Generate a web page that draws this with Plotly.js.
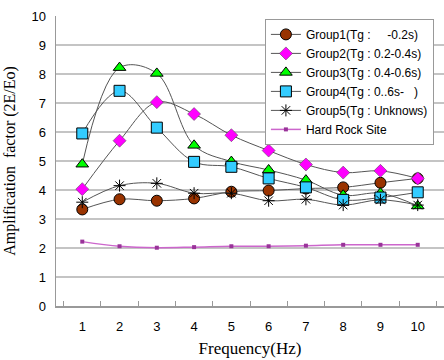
<!DOCTYPE html>
<html>
<head>
<meta charset="utf-8">
<script src="https://cdn.plot.ly/plotly-3.0.1.min.js"></script>
<style>html,body{margin:0;padding:0;background:#fff}#chart{width:444px;height:360px}</style>
</head>
<body>
<div id="chart"></div>
<script>
var freq = ["1","2","3","4","5","6","7","8","9","10"];
var group1 = [3.33, 3.68, 3.63, 3.71, 3.94, 3.98, 4.05, 4.09, 4.25, 4.40];
var group2 = [4.03, 5.70, 7.03, 6.62, 5.89, 5.36, 4.88, 4.60, 4.66, 4.40];
var group3 = [4.89, 8.22, 8.02, 5.54, 4.98, 4.69, 4.34, 3.82, 3.89, 3.45];
var group4 = [5.95, 7.42, 6.15, 4.97, 4.80, 4.40, 4.09, 3.66, 3.74, 3.92];
var group5 = [3.58, 4.15, 4.23, 3.89, 3.89, 3.63, 3.68, 3.48, 3.66, 3.48];
var hardRock = [2.22, 2.06, 2.01, 2.03, 2.06, 2.06, 2.08, 2.11, 2.11, 2.11];
var names = [
  "Group1(Tg :\u00a0\u00a0\u00a0\u00a0\u00a0-0.2s)",
  "Group2(Tg : 0.2-0.4s)",
  "Group3(Tg : 0.4-0.6s)",
  "Group4(Tg : 0..6s-\u00a0\u00a0\u00a0)",
  "Group5(Tg : Unknows)",
  "Hard Rock Site"
];

var lineGray = {color: '#555555', width: 1, shape: 'spline', smoothing: 1};
function tr(y, name, marker, line) {
  return {x: freq, y: y, name: name, type: 'scatter', mode: 'lines+markers',
          line: line || lineGray, marker: marker};
}
var data = [
  tr(group1, names[0], {symbol: 'circle', size: 11, color: '#993300', line: {color: '#000', width: 1}}),
  tr(group2, names[1], {symbol: 'diamond', size: 10, color: '#FF00FF', line: {color: '#444', width: 0.5}}),
  tr(group3, names[2], {symbol: 'triangle-up', size: 11, color: '#00FF00', line: {color: '#000', width: 1}}),
  tr(group4, names[3], {symbol: 'square', size: 11, color: '#33CCFF', line: {color: '#000', width: 1}}),
  tr(group5, names[4], {symbol: 'asterisk-open', size: 10, color: '#000', line: {color: '#222', width: 1}}),
  tr(hardRock, names[5], {symbol: 'square', size: 4, color: '#993399', line: {width: 0}},
     {color: '#CC66CC', width: 1.5, shape: 'spline', smoothing: 1})
];

var layout = {
  width: 444, height: 360,
  margin: {l: 56, r: 0, t: 16, b: 54},
  paper_bgcolor: '#fff', plot_bgcolor: '#fff',
  font: {family: 'Liberation Sans, Arial, sans-serif', color: '#000', size: 13},
  showlegend: true,
  legend: {x: 0.974, y: 0.99, xanchor: 'right', yanchor: 'top',
           bgcolor: '#fff', bordercolor: '#999', borderwidth: 1,
           font: {size: 12, family: 'Liberation Sans, Arial, sans-serif'},
           itemwidth: 30, tracegroupgap: 0},
  xaxis: {
    type: 'category', tickson: 'boundaries', ticks: 'inside', ticklen: 5, tickcolor: '#999',
    showline: true, linecolor: '#999', linewidth: 1.5, showgrid: false, zeroline: false,
    tickfont: {size: 13}, ticklabelstandoff: 8,
    title: {text: 'Frequency(Hz)', font: {family: 'Liberation Serif, Times New Roman, serif', size: 17}, standoff: 9}
  },
  yaxis: {
    range: [0, 10], dtick: 1, showline: true, linecolor: '#999', linewidth: 1.5,
    gridcolor: '#c4c4c4', gridwidth: 2, zeroline: false, ticks: '',
    tickfont: {size: 13}, ticklabelstandoff: 6,
    title: {text: 'Amplification\u00a0 factor (2E/Eo)', font: {family: 'Liberation Serif, Times New Roman, serif', size: 16}, standoff: 12}
  }
};
Plotly.newPlot('chart', data, layout, {displayModeBar: false, staticPlot: true});
</script>
</body>
</html>
